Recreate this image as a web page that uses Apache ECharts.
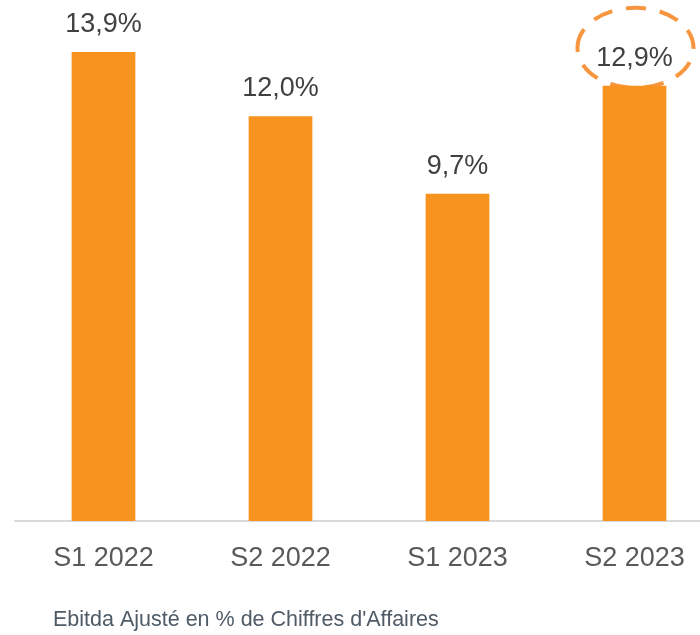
<!DOCTYPE html>
<html>
<head>
<meta charset="utf-8">
<script src="https://cdn.jsdelivr.net/npm/echarts@6/dist/echarts.min.js"></script>
<style>
  html, body { margin: 0; padding: 0; background: #fff; }
  #chart { width: 700px; height: 635px; }
</style>
</head>
<body>
<div id="chart"></div>
<script>
// données
const categories = ["S1 2022", "S2 2022", "S1 2023", "S2 2023"];
const ebitdaMargin = [13.9, 12.0, 9.7, 12.9];
const subtitle = "Ebitda Ajusté en % de Chiffres d'Affaires";

(function () {
  const font = "'Liberation Sans', Arial, sans-serif";
  const myChart = echarts.init(document.getElementById("chart"));
  const subtitleGraphic = {
    type: "text",
    left: 53,
    top: 609,
    style: { text: subtitle, fill: "#4f5b66", fontSize: 21.5, fontFamily: font },
  };
  const option = {
    animation: false,
    textStyle: { fontFamily: font },
    // la grille déborde à droite comme dans l'original
    grid: { left: 15, width: 708, top: 15, bottom: 114, outerBoundsMode: "none" },
    xAxis: {
      type: "category",
      data: categories,
      axisTick: { show: false },
      axisLine: { lineStyle: { color: "#d9d9d9", width: 2 } },
      axisLabel: { color: "#595959", fontSize: 27, margin: 24 },
    },
    yAxis: {
      type: "value",
      min: 0,
      max: 15,
      show: false,
    },
    series: [
      {
        type: "bar",
        data: ebitdaMargin,
        barWidth: "36%",
        itemStyle: { color: "#F7931E" },
        label: {
          show: true,
          position: "top",
          distance: 14,
          color: "#404040",
          fontSize: 27,
          formatter: (p) => p.value.toFixed(1).replace(".", ",") + "%",
        },
      },
    ],
    graphic: [subtitleGraphic],
  };
  myChart.setOption(option);

  // ellipse en pointillés autour du dernier libellé
  const last = ebitdaMargin.length - 1;
  const pt = myChart.convertToPixel({ seriesIndex: 0 }, [last, ebitdaMargin[last]]);
  myChart.setOption({
    graphic: [
      subtitleGraphic,
      {
        type: "ellipse",
        shape: { cx: pt[0] + 1, cy: pt[1] - 38, rx: 58, ry: 40 },
        style: { fill: "none", stroke: "#F7963E", lineWidth: 4, lineDash: [20, 14] },
      },
    ],
  });
})();
</script>
</body>
</html>
